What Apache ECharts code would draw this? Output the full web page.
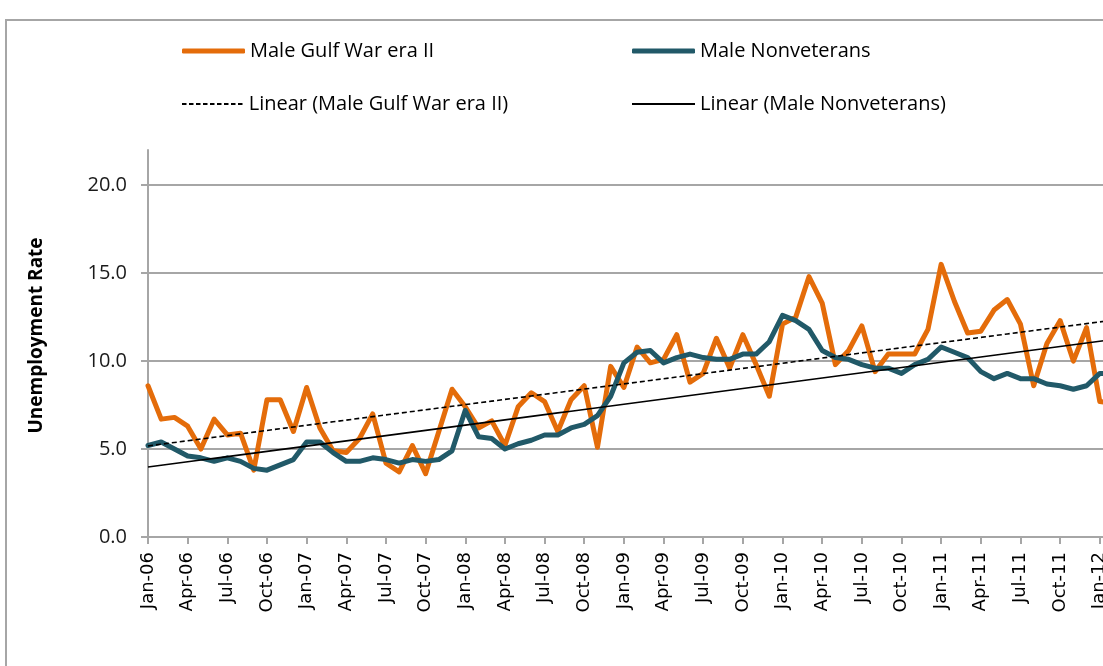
<!DOCTYPE html>
<html>
<head>
<meta charset="utf-8">
<script src="https://cdn.jsdelivr.net/npm/echarts@6/dist/echarts.min.js"></script>
<style>
  html, body { margin: 0; padding: 0; background: #ffffff; overflow: hidden; width: 1103px; height: 666px; }
  #frame { position: absolute; left: 5px; top: 19px; width: 1300px; height: 900px; border: 2px solid #a6a6a6; box-sizing: border-box; }
  #chart { position: absolute; left: 0; top: 0; width: 1180px; height: 666px; }
</style>
</head>
<body>
<div id="frame"></div>
<div id="chart"></div>
<script>
const categories = [
  'Jan-06','Feb-06','Mar-06','Apr-06','May-06','Jun-06','Jul-06','Aug-06','Sep-06','Oct-06','Nov-06','Dec-06',
  'Jan-07','Feb-07','Mar-07','Apr-07','May-07','Jun-07','Jul-07','Aug-07','Sep-07','Oct-07','Nov-07','Dec-07',
  'Jan-08','Feb-08','Mar-08','Apr-08','May-08','Jun-08','Jul-08','Aug-08','Sep-08','Oct-08','Nov-08','Dec-08',
  'Jan-09','Feb-09','Mar-09','Apr-09','May-09','Jun-09','Jul-09','Aug-09','Sep-09','Oct-09','Nov-09','Dec-09',
  'Jan-10','Feb-10','Mar-10','Apr-10','May-10','Jun-10','Jul-10','Aug-10','Sep-10','Oct-10','Nov-10','Dec-10',
  'Jan-11','Feb-11','Mar-11','Apr-11','May-11','Jun-11','Jul-11','Aug-11','Sep-11','Oct-11','Nov-11','Dec-11',
  'Jan-12','Feb-12'
];

const maleGulfWarEraII = [
  8.6, 6.7, 6.8, 6.3, 5.0, 6.7, 5.8, 5.9, 3.8, 7.8, 7.8, 6.0,
  8.5, 6.2, 4.9, 4.8, 5.6, 7.0, 4.2, 3.7, 5.2, 3.6, 6.0, 8.4,
  7.4, 6.2, 6.6, 5.2, 7.4, 8.2, 7.7, 6.0, 7.8, 8.6, 5.1, 9.7,
  8.5, 10.8, 9.9, 10.1, 11.5, 8.8, 9.3, 11.3, 9.6, 11.5, 9.8, 8.0,
  12.1, 12.5, 14.8, 13.3, 9.8, 10.6, 12.0, 9.4, 10.4, 10.4, 10.4, 11.8,
  15.5, 13.4, 11.6, 11.7, 12.9, 13.5, 12.1, 8.6, 11.0, 12.3, 10.0, 11.9,
  7.7, 7.6
];

const maleNonveterans = [
  5.2, 5.4, 5.0, 4.6, 4.5, 4.3, 4.5, 4.3, 3.9, 3.8, 4.1, 4.4,
  5.4, 5.4, 4.8, 4.3, 4.3, 4.5, 4.4, 4.2, 4.4, 4.3, 4.4, 4.9,
  7.2, 5.7, 5.6, 5.0, 5.3, 5.5, 5.8, 5.8, 6.2, 6.4, 6.9, 8.0,
  9.9, 10.5, 10.6, 9.9, 10.2, 10.4, 10.2, 10.1, 10.1, 10.4, 10.4, 11.1,
  12.6, 12.3, 11.8, 10.6, 10.2, 10.1, 9.8, 9.6, 9.6, 9.3, 9.8, 10.1,
  10.8, 10.5, 10.2, 9.4, 9.0, 9.3, 9.0, 9.0, 8.7, 8.6, 8.4, 8.6,
  9.3, 9.3
];

const yTickValues = [0, 5, 10, 15, 20];

const seriesNames = ['Male Gulf War era II', 'Male Nonveterans',
  'Linear (Male Gulf War era II)', 'Linear (Male Nonveterans)'];

// Least-squares linear trend (as Excel's "Linear" trendline)
function linearTrend(vals) {
  const n = vals.length;
  let sx = 0, sy = 0, sxx = 0, sxy = 0;
  for (let i = 0; i < n; i++) {
    const x = i + 1;
    sx += x; sy += vals[i]; sxx += x * x; sxy += x * vals[i];
  }
  const b = (n * sxy - sx * sy) / (n * sxx - sx * sx);
  const a = (sy - b * sx) / n;
  return vals.map((_, i) => +(a + b * (i + 1)).toFixed(4));
}

const trendGulf = linearTrend(maleGulfWarEraII);
const trendNonvet = linearTrend(maleNonveterans);

const chart = echarts.init(document.getElementById('chart'), null, { renderer: 'canvas' });

const legendText = { fontFamily: 'Open Sans', fontSize: 20, color: '#000000' };
const dashIcon = 'path://M0 0h4.5v2h-4.5z M7 0h4.5v2h-4.5z M14 0h4.5v2h-4.5z M21 0h4.5v2h-4.5z M28 0h4.5v2h-4.5z M35 0h4.5v2h-4.5z M42 0h4.5v2h-4.5z M49 0h4.5v2h-4.5z M56 0h4.5v2h-4.5z';
function legendAt(name, left, top, icon, h) {
  return {
    data: [name], left: left, top: top, itemWidth: 63, itemHeight: h, icon: icon,
    textStyle: legendText, padding: 0, selectedMode: false
  };
}

const option = {
  backgroundColor: 'transparent',
  animation: false,
  legend: [
    legendAt(seriesNames[0], 182, 41, 'roundRect', 5),
    legendAt(seriesNames[1], 632, 41, 'roundRect', 5),
    legendAt(seriesNames[2], 182, 94, dashIcon, 2),
    legendAt(seriesNames[3], 632, 94, 'rect', 2)
  ],
  grid: { left: 148, top: 150, right: 67, bottom: 129, containLabel: false },
  xAxis: {
    type: 'category',
    data: categories,
    boundaryGap: false,
    axisLine: { lineStyle: { color: '#a6a6a6', width: 2 } },
    axisTick: { show: true, interval: 2, length: 7, lineStyle: { color: '#a6a6a6', width: 2 } },
    axisLabel: {
      interval: 2, rotate: 90, margin: 15,
      fontFamily: 'DejaVu Sans', fontSize: 18, color: '#000000'
    },
    splitLine: { show: false }
  },
  yAxis: {
    type: 'value',
    min: 0, max: 22, interval: 5,
    name: 'Unemployment Rate',
    nameLocation: 'middle',
    nameGap: 102,
    nameTextStyle: { fontFamily: 'Open Sans', fontWeight: 'bold', fontSize: 19, color: '#000000', padding: [0, 0, 0, 16] },
    axisLine: { show: true, lineStyle: { color: '#a6a6a6', width: 2 } },
    axisTick: { show: true, inside: false, length: 7, customValues: yTickValues, lineStyle: { color: '#a6a6a6', width: 2 } },
    axisLabel: {
      customValues: yTickValues,
      margin: 21,
      fontFamily: 'Open Sans', fontSize: 20, color: '#1a1a1a',
      formatter: v => Number(v).toFixed(1)
    },
    splitLine: { show: true, lineStyle: { color: '#a6a6a6', width: 2 } }
  },
  series: [
    {
      name: seriesNames[0], type: 'line', data: maleGulfWarEraII,
      symbol: 'none', showSymbol: false, z: 2,
      lineStyle: { color: '#E46C0A', width: 5, cap: 'round', join: 'round' },
      itemStyle: { color: '#E46C0A' }
    },
    {
      name: seriesNames[1], type: 'line', data: maleNonveterans,
      symbol: 'none', showSymbol: false, z: 3,
      lineStyle: { color: '#215968', width: 5, cap: 'round', join: 'round' },
      itemStyle: { color: '#215968' }
    },
    {
      name: seriesNames[2], type: 'line', data: trendGulf,
      symbol: 'none', showSymbol: false, z: 4,
      lineStyle: { color: '#000000', width: 1.6, type: [5, 3] },
      itemStyle: { color: '#000000' }
    },
    {
      name: seriesNames[3], type: 'line', data: trendNonvet,
      symbol: 'none', showSymbol: false, z: 4,
      lineStyle: { color: '#000000', width: 1.6 },
      itemStyle: { color: '#000000' }
    }
  ]
};

chart.setOption(option);
</script>
</body>
</html>
